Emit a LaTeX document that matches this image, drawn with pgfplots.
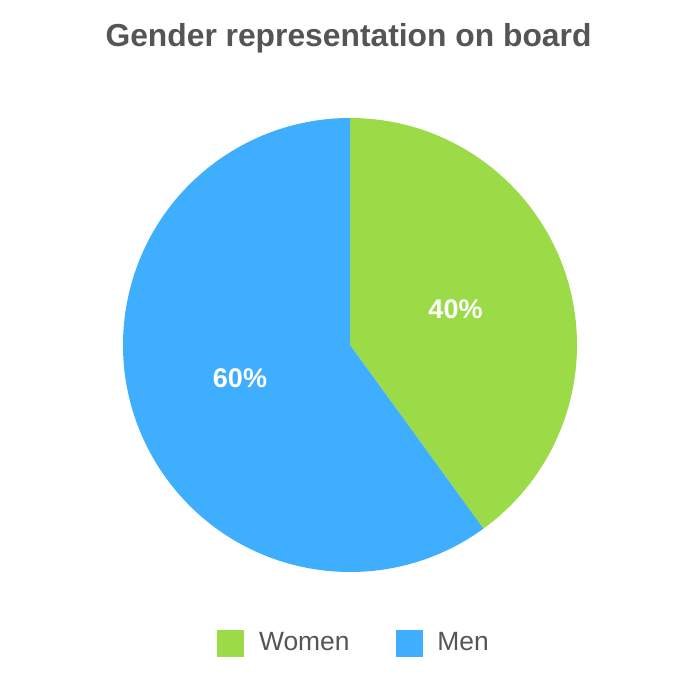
\documentclass[border=0pt]{standalone}
\usepackage{pgfplots}
\pgfplotsset{compat=1.18}
\usepackage{pgfplotstable}
\usepackage{fontspec}
\setmainfont{Liberation Sans}
\definecolor{women}{HTML}{9BDB48}
\definecolor{men}{HTML}{40AEFF}
\definecolor{txt}{HTML}{555555}
\pgfplotstableread{
label value
Women 40
Men 60
}\piedata
\pgfplotstablegetelem{0}{value}\of\piedata \let\vW\pgfplotsretval
\pgfplotstablegetelem{1}{value}\of\piedata \let\vM\pgfplotsretval
\begin{document}
\begin{tikzpicture}
\pgfmathsetmacro{\aW}{90-3.6*\vW}
\pgfmathsetmacro{\aM}{\aW-3.6*\vM}
\begin{axis}[
  scale only axis, width=350pt, height=350pt,
  xmin=-1.5419, xmax=1.5419, ymin=-1.5639, ymax=1.5198,
  hide axis, clip=false,
  legend columns=2,
  legend style={draw=none, fill=none, at={(0.515,0.0814)}, anchor=center,
    font=\fontsize{13.2}{15}\selectfont, text=txt,
    /tikz/every even column/.append style={column sep=15.5pt},
    nodes={inner xsep=7.5pt, inner ysep=0pt}},
  legend image code/.code={\fill[#1] (0pt,-6.5pt) rectangle (13pt,6.5pt);},
]
\path (axis cs:-1.5419,-1.5639) rectangle (axis cs:1.5419,1.5198);
\fill[women] (axis cs:0,0) -- (axis cs:0,1) arc[start angle=90, end angle=\aW, radius=113.5pt] -- cycle;
\fill[men] (axis cs:0,0) -- (axis cs:{cos(\aW)},{sin(\aW)}) arc[start angle=\aW, end angle=\aM, radius=113.5pt] -- cycle;
\addlegendimage{women}\addlegendentry{Women}
\addlegendimage{men}\addlegendentry{Men}
\node[anchor=base, font=\bfseries\fontsize{15.9}{18}\selectfont, text=txt, inner sep=0pt] at (axis cs:-0.0066,1.3128) {Gender representation on board};
\node[anchor=base, font=\bfseries\fontsize{13.5}{16}\selectfont, text=white, inner sep=0pt] at (axis cs:0.4648,0.1167) {\vW\%};
\node[anchor=base, font=\bfseries\fontsize{13.5}{16}\selectfont, text=white, inner sep=0pt] at (axis cs:-0.4846,-0.1894) {\vM\%};
\end{axis}
\end{tikzpicture}
\end{document}
